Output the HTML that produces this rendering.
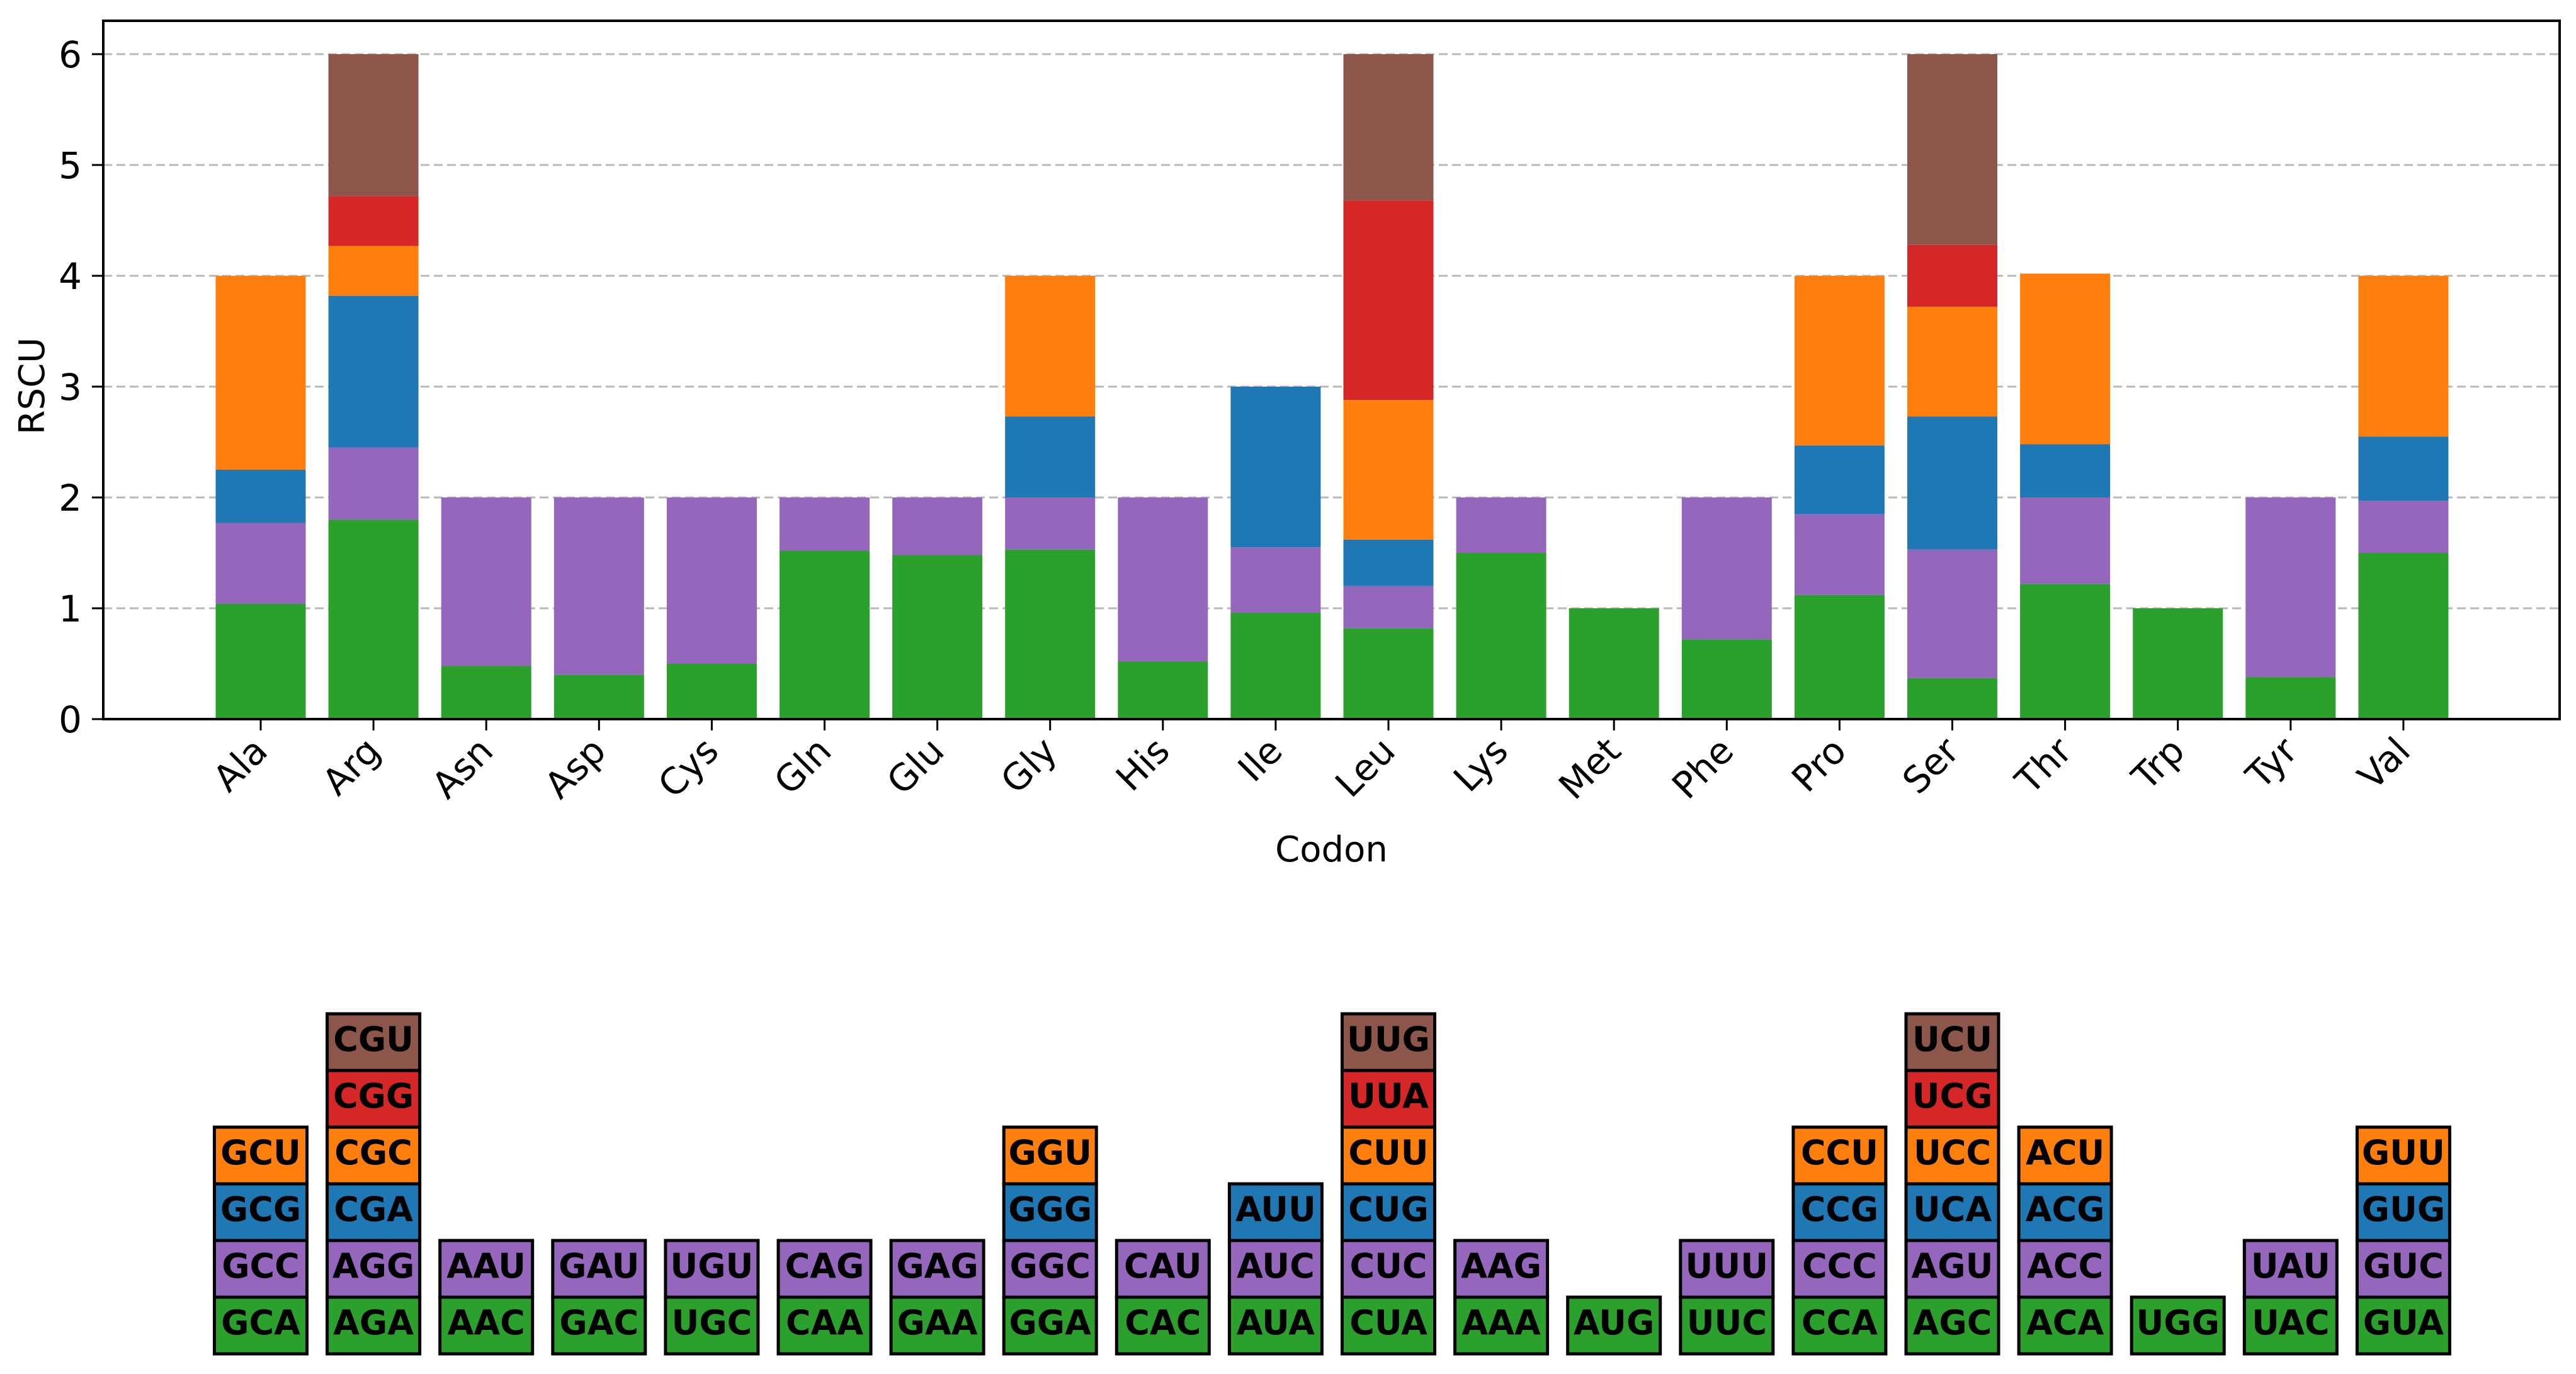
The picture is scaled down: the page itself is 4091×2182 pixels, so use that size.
<!DOCTYPE html>
<html><head><meta charset="utf-8"><style>
html,body{margin:0;padding:0;background:#fff;}
svg{display:block;}
text{font-family:"DejaVu Sans","Liberation Sans",sans-serif;}
</style></head>
<body>
<svg id="chart" width="4091" height="2182" viewBox="0 0 4091 2182" xmlns="http://www.w3.org/2000/svg">
<rect x="0" y="0" width="4091" height="2182" fill="#fff"/>
<g id="grid"></g>
<g id="bars"></g>
<g id="axes"></g>
<g id="boxes"></g>
</svg>
<script>
const categories = ["Ala","Arg","Asn","Asp","Cys","Gln","Glu","Gly","His","Ile","Leu","Lys","Met","Phe","Pro","Ser","Thr","Trp","Tyr","Val"];
// layer values (segment heights), bottom to top
const layer1 = [1.04,1.80,0.48,0.40,0.50,1.52,1.48,1.53,0.52,0.96,0.82,1.50,1.00,0.72,1.12,0.37,1.22,1.00,0.38,1.50];
const layer2 = [0.73,0.65,1.52,1.60,1.50,0.48,0.52,0.47,1.48,0.59,0.38,0.50,0,1.28,0.73,1.16,0.78,0,1.62,0.47];
const layer3 = [0.48,1.37,0,0,0,0,0,0.73,0,1.45,0.42,0,0,0,0.62,1.20,0.48,0,0,0.58];
const layer4 = [1.75,0.45,0,0,0,0,0,1.27,0,0,1.26,0,0,0,1.53,0.99,1.54,0,0,1.45];
const layer5 = [0,0.45,0,0,0,0,0,0,0,0,1.80,0,0,0,0,0.56,0,0,0,0];
const layer6 = [0,1.28,0,0,0,0,0,0,0,0,1.32,0,0,0,0,1.72,0,0,0,0];
const codons = [
 ["GCA","GCC","GCG","GCU"],["AGA","AGG","CGA","CGC","CGG","CGU"],["AAC","AAU"],["GAC","GAU"],["UGC","UGU"],
 ["CAA","CAG"],["GAA","GAG"],["GGA","GGC","GGG","GGU"],["CAC","CAU"],["AUA","AUC","AUU"],
 ["CUA","CUC","CUG","CUU","UUA","UUG"],["AAA","AAG"],["AUG"],["UUC","UUU"],["CCA","CCC","CCG","CCU"],
 ["AGC","AGU","UCA","UCC","UCG","UCU"],["ACA","ACC","ACG","ACU"],["UGG"],["UAC","UAU"],["GUA","GUC","GUG","GUU"]];
const yTicks = [0,1,2,3,4,5,6];
const colors = ["#2ca02c","#9467bd","#1f77b4","#ff7f0e","#d62728","#8c564b"];
const layers = [layer1,layer2,layer3,layer4,layer5,layer6];

const NS="http://www.w3.org/2000/svg";
const L=164,R=4065,T=33,B=1142;
const X0=414, DX=179.1, BW=143;
function xs(i){return X0+i*DX;}
function ys(v){return B-(v/6)*(B-86);}
function mk(tag,attrs,parent){const e=document.createElementNS(NS,tag);for(const k in attrs)e.setAttribute(k,attrs[k]);parent.appendChild(e);return e;}
const grid=document.getElementById('grid'),bars=document.getElementById('bars'),axes=document.getElementById('axes'),boxes=document.getElementById('boxes');

yTicks.forEach(t=>{
  const g=mk('line',{x1:L,x2:R,y1:ys(t),y2:ys(t),stroke:'#b8b8b8','stroke-width':3,'stroke-dasharray':'14,7'},grid);
  
  
});

categories.forEach((c,i)=>{
  let base=0;
  layers.forEach((arr,k)=>{
    const v=arr[i]; if(!v) return;
    const r=mk('rect',{x:xs(i)-BW/2,y:ys(base+v),width:BW,height:ys(base)-ys(base+v),fill:colors[k]},bars);
    
    
    base+=v;
  });
  const BH=90, BB=2150;
  codons[i].forEach((cd,k)=>{
    const g=mk('g',{},boxes);
    
    
    mk('rect',{x:xs(i)-BW/2-2,y:BB-(k+1)*BH,width:BW+4,height:BH,fill:colors[k],stroke:'#000','stroke-width':5},g);
    const t=mk('text',{x:xs(i),y:BB-k*BH-BH/2+14,'text-anchor':'middle','font-size':54,'font-weight':'bold',fill:'#000'},g);
    t.textContent=cd;
  });
  const tk=mk('line',{x1:xs(i),x2:xs(i),y1:B,y2:B+18,stroke:'#000','stroke-width':3},axes);
  
  
  const lx=xs(i)+14, ly=B+54;
  const lt=mk('text',{x:lx,y:ly,'text-anchor':'end','font-size':58,fill:'#000',transform:`rotate(-45 ${lx} ${ly})`},axes);
  lt.textContent=c;
  
  
});

yTicks.forEach(t=>{
  const tk=mk('line',{x1:L-18,x2:L,y1:ys(t),y2:ys(t),stroke:'#000','stroke-width':3},axes);
  
  
  const lt=mk('text',{x:L-34,y:ys(t)+21,'text-anchor':'end','font-size':58,fill:'#000'},axes);
  lt.textContent=String(t);
  
  
});
const frame=mk('rect',{x:L,y:T,width:R-L,height:B-T,fill:'none',stroke:'#000','stroke-width':4},axes);


const xl=mk('text',{x:(L+R)/2,y:1368,'text-anchor':'middle','font-size':56,fill:'#000'},axes);
xl.textContent='Codon';


const yl=mk('text',{x:70,y:613,'text-anchor':'middle','font-size':56,fill:'#000',transform:'rotate(-90 70 613)'},axes);
yl.textContent='RSCU';


</script>
</body></html>
